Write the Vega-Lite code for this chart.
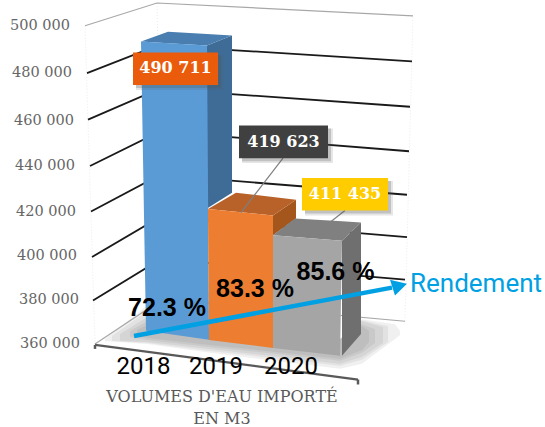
{"$schema":"https://vega.github.io/schema/vega-lite/v6.json","width":545,"height":427,"padding":0,"autosize":{"type":"fit","contains":"padding"},"background":"white","config":{"view":{"stroke":null}},
"encoding":{"x":{"field":"p","type":"quantitative","scale":{"domain":[2015.4,2023.575],"nice":false,"zero":false},"axis":null},"y":{"field":"v","type":"quantitative","scale":{"domain":[324328,510500],"nice":false,"zero":false},"axis":null},"color":{"field":"part","type":"nominal","legend":null,"scale":{"domain":["blueSide","blueTop","orangeSide","orangeTop","graySide","grayTop","blueFront","orangeFront","grayFront","labelOrange","labelDark","labelYellow"],"range":["#3F6C97","#4A7EB0","#A5561C","#B8622A","#6F6F6F","#808080","#5B9BD5","#ED7D31","#A5A5A5","#EA5B0C","#404040","#FFCC00"]}}},
"layer":[
{"mark":{"type":"line","strokeWidth":1,"strokeDash":[1,2]},"encoding":{"color":{"value":"#ececec"},"detail":{"field":"e"}},"data":{"values":[{"e":"l","p":2016.675,"v":500472},{"e":"l","p":2016.825,"v":360080},{"e":"c","p":2017.755,"v":510500},{"e":"c","p":2017.83,"v":379700},{"e":"r","p":2021.595,"v":504832},{"e":"r","p":2021.475,"v":370108}]}},
{"mark":{"type":"area","orient":"vertical","opacity":0.09},"encoding":{"color":{"value":"#555555"},"detail":{"field":"s"},"y2":{"field":"v2"}},"data":{"values":[
{"s":1,"p":2016.975,"v":362260,"v2":361388},{"s":1,"p":2017.605,"v":377084,"v2":360080},{"s":1,"p":2018.55,"v":366620,"v2":356156},{"s":1,"p":2020.5,"v":362260,"v2":349180},{"s":1,"p":2020.83,"v":370980,"v2":351360},{"s":1,"p":2021.325,"v":368800,"v2":362260},{"s":1,"p":2021.4,"v":365748,"v2":364004},
{"s":2,"p":2017.08,"v":363568,"v2":361388},{"s":2,"p":2017.605,"v":374468,"v2":360516},{"s":2,"p":2018.55,"v":366620,"v2":357028},{"s":2,"p":2020.5,"v":362260,"v2":350488},{"s":2,"p":2020.83,"v":370544,"v2":353104},{"s":2,"p":2021.22,"v":367928,"v2":360952},
{"s":3,"p":2017.2,"v":364440,"v2":361388},{"s":3,"p":2017.605,"v":371852,"v2":360952},{"s":3,"p":2018.55,"v":366620,"v2":357900},{"s":3,"p":2020.5,"v":362260,"v2":351360},{"s":3,"p":2020.83,"v":370108,"v2":354412},{"s":3,"p":2021.145,"v":367492,"v2":360516},
{"s":4,"p":2017.35,"v":365748,"v2":363132},{"s":4,"p":2017.605,"v":370108,"v2":361824},{"s":4,"p":2018.55,"v":366620,"v2":358772},{"s":4,"p":2020.5,"v":362260,"v2":352668},{"s":4,"p":2020.83,"v":368800,"v2":356156},{"s":4,"p":2021.025,"v":366620,"v2":360516},
{"s":5,"p":2017.455,"v":366184,"v2":364004},{"s":5,"p":2017.605,"v":368364,"v2":362696},{"s":5,"p":2018.55,"v":366620,"v2":359644},{"s":5,"p":2020.5,"v":362260,"v2":353540},{"s":5,"p":2020.83,"v":367928,"v2":357464},{"s":5,"p":2020.935,"v":365748,"v2":360952}]}},
{"mark":{"type":"line","strokeWidth":1.8},"encoding":{"color":{"value":"#1a1a1a"},"detail":{"field":"grid"}},"data":{"values":[
{"grid":480000,"p":2016.705,"v":479544},{"grid":480000,"p":2017.77,"v":491752},{"grid":480000,"p":2021.58,"v":484776},
{"grid":460000,"p":2016.72,"v":459052},{"grid":460000,"p":2017.785,"v":472568},{"grid":460000,"p":2021.55,"v":464720},
{"grid":440000,"p":2016.75,"v":438560},{"grid":440000,"p":2017.8,"v":453820},{"grid":440000,"p":2021.535,"v":445100},
{"grid":420000,"p":2016.765,"v":418504},{"grid":420000,"p":2017.8,"v":434636},{"grid":420000,"p":2021.505,"v":425916},
{"grid":400000,"p":2016.78,"v":398448},{"grid":400000,"p":2017.815,"v":416324},{"grid":400000,"p":2021.505,"v":407168},
{"grid":380000,"p":2016.795,"v":379264},{"grid":380000,"p":2017.815,"v":397576},{"grid":380000,"p":2021.475,"v":388420}]}},
{"mark":{"type":"line","strokeWidth":1.2},"encoding":{"color":{"value":"#a8a8a8"},"detail":{"field":"grid"}},"data":{"values":[
{"grid":500000,"p":2016.675,"v":500472},{"grid":500000,"p":2017.755,"v":510500},{"grid":500000,"p":2021.595,"v":504832},
{"grid":360000,"p":2016.825,"v":360080},{"grid":360000,"p":2017.83,"v":379700},{"grid":360000,"p":2021.475,"v":370108}]}},
{"mark":{"type":"area","orient":"vertical"},"encoding":{"y2":{"field":"v2"}},"data":{"values":[
{"part":"blueSide","p":2018.505,"v":491752,"v2":419812},{"part":"blueSide","p":2018.88,"v":496112,"v2":426788},
{"part":"blueTop","p":2017.515,"v":493496,"v2":493496},{"part":"blueTop","p":2017.92,"v":497856,"v2":492798},{"part":"blueTop","p":2018.505,"v":496810,"v2":491752},{"part":"blueTop","p":2018.88,"v":496112,"v2":496112},
{"part":"orangeSide","p":2019.495,"v":416760,"v2":408040},{"part":"orangeSide","p":2019.84,"v":423736,"v2":415452},
{"part":"orangeTop","p":2018.52,"v":419594,"v2":419594},{"part":"orangeTop","p":2018.94,"v":426788,"v2":418373},{"part":"orangeTop","p":2019.495,"v":424913,"v2":416760},{"part":"orangeTop","p":2019.84,"v":423736,"v2":423736},
{"part":"graySide","p":2020.53,"v":405642,"v2":354848},{"part":"graySide","p":2020.815,"v":413708,"v2":364440},
{"part":"grayTop","p":2019.495,"v":408040,"v2":408040},{"part":"grayTop","p":2019.825,"v":415452,"v2":407277},{"part":"grayTop","p":2020.53,"v":414209,"v2":405642},{"part":"grayTop","p":2020.815,"v":413708,"v2":413708}]}},
{"mark":{"type":"area","orient":"horizontal"},"encoding":{"x2":{"field":"p2"}},"data":{"values":[
{"part":"blueFront","v":493496,"p":2017.515,"p2":2017.515},{"part":"blueFront","v":491752,"p":2017.516,"p2":2018.505},{"part":"blueFront","v":365879,"p":2017.59,"p2":2018.535},{"part":"blueFront","v":361955,"p":2018.535,"p2":2018.535},
{"part":"orangeFront","v":419594,"p":2018.52,"p2":2018.52},{"part":"orangeFront","v":416760,"p":2018.52,"p2":2019.495},{"part":"orangeFront","v":361824,"p":2018.535,"p2":2019.495},{"part":"orangeFront","v":358336,"p":2019.495,"p2":2019.495},
{"part":"grayFront","v":408040,"p":2019.495,"p2":2019.495},{"part":"grayFront","v":405642,"p":2019.495,"p2":2020.53},{"part":"grayFront","v":358336,"p":2019.495,"p2":2020.503},{"part":"grayFront","v":354848,"p":2020.5,"p2":2020.5}]}},
{"mark":{"type":"line","strokeWidth":2.2},"encoding":{"color":{"value":"#595959"}},"data":{"values":[{"p":2016.825,"v":359644},{"p":2020.77,"v":344384}]}},
{"mark":{"type":"rule","strokeWidth":2.5},"encoding":{"color":{"value":"#595959"},"y2":{"field":"v2"}},"data":{"values":[{"p":2016.825,"v":359644,"v2":357900},{"p":2020.77,"v":344384,"v2":342204}]}},
{"mark":{"type":"line","strokeWidth":1.2},"encoding":{"color":{"value":"#7f7f7f"},"detail":{"field":"lead"}},"data":{"values":[{"lead":"2019","p":2019.645,"v":442048},{"lead":"2019","p":2019.015,"v":418068},{"lead":"2020","p":2020.575,"v":418940},{"lead":"2020","p":2020.365,"v":414144}]}},
{"mark":{"type":"rect","opacity":0.15},"encoding":{"color":{"value":"#555555"},"x2":{"field":"p2"},"y2":{"field":"v2"}},"data":{"values":[{"p":2017.44,"p2":2018.745,"v":487392,"v2":472132},{"p":2019.03,"p2":2020.395,"v":455128,"v2":439868},{"p":2019.975,"p2":2021.295,"v":432020,"v2":416760}]}},
{"mark":{"type":"rect","opacity":0.25},"encoding":{"color":{"value":"#555555"},"x2":{"field":"p2"},"y2":{"field":"v2"}},"data":{"values":[{"p":2017.44,"p2":2018.715,"v":487392,"v2":473004},{"p":2019.03,"p2":2020.365,"v":455128,"v2":440740},{"p":2019.975,"p2":2021.265,"v":432020,"v2":417632}]}},
{"mark":{"type":"rect"},"encoding":{"x2":{"field":"p2"},"y2":{"field":"v2"}},"data":{"values":[{"part":"labelOrange","p":2017.395,"p2":2018.67,"v":488700,"v2":474312},{"part":"labelDark","p":2018.985,"p2":2020.32,"v":456436,"v2":442048},{"part":"labelYellow","p":2019.93,"p2":2021.22,"v":433328,"v2":418940}]}},
{"mark":{"type":"text","font":"DejaVu Serif","fontWeight":"bold","fontSize":16,"baseline":"middle","align":"center"},"encoding":{"text":{"field":"t"},"color":{"value":"#ffffff"}},"data":{"values":[{"t":"490 711","p":2018.0325,"v":481724},{"t":"419 623","p":2019.6525,"v":449024},{"t":"411 435","p":2020.575,"v":426134}]}},
{"mark":{"type":"line","strokeWidth":4.5},"encoding":{"color":{"value":"#00A0E3"}},"data":{"values":[{"p":2017.41,"v":363568},{"p":2021.28,"v":384932}]}},
{"mark":{"type":"area","orient":"vertical"},"encoding":{"color":{"value":"#00A0E3"},"y2":{"field":"v2"}},"data":{"values":[{"p":2021.25,"v":388420,"v2":388420},{"p":2021.325,"v":387897,"v2":381444},{"p":2021.505,"v":386676,"v2":386676}]}},
{"mark":{"type":"text","font":"Liberation Sans","fontWeight":"bold","fontSize":25,"baseline":"middle","align":"center"},"encoding":{"text":{"field":"t"},"color":{"value":"#000000"}},"data":{"values":[{"t":"72.3 %","p":2017.905,"v":375776},{"t":"83.3 %","p":2019.225,"v":384496},{"t":"85.6 %","p":2020.4325,"v":391908}]}},
{"mark":{"type":"text","font":"Roboto","fontSize":24,"baseline":"middle","align":"center"},"encoding":{"text":{"field":"t"},"color":{"value":"#000000"}},"data":{"values":[{"t":"2018","p":2017.5525,"v":350052},{"t":"2019","p":2018.64,"v":350052},{"t":"2020","p":2019.765,"v":350052}]}},
{"mark":{"type":"text","font":"Roboto","fontSize":26,"baseline":"middle","align":"center"},"encoding":{"text":{"field":"t"},"color":{"value":"#00A0E3"}},"data":{"values":[{"t":"Rendement","p":2022.54,"v":386676}]}},
{"mark":{"type":"text","font":"DejaVu Serif","fontSize":16,"baseline":"middle","align":"center"},"encoding":{"text":{"field":"t"},"color":{"value":"#595959"}},"data":{"values":[{"t":"VOLUMES D'EAU IMPORTÉ","p":2018.73,"v":336536},{"t":"EN M3","p":2018.73,"v":326944}]}},
{"mark":{"type":"text","font":"DejaVu Serif","fontSize":14.5,"baseline":"middle","align":"center"},"encoding":{"text":{"field":"t"},"color":{"value":"#666666"}},"data":{"values":[{"t":"500 000","p":2016.0,"v":500472},{"t":"480 000","p":2016.03,"v":479544},{"t":"460 000","p":2016.06,"v":458616},{"t":"440 000","p":2016.075,"v":438560},{"t":"420 000","p":2016.09,"v":418504},{"t":"400 000","p":2016.105,"v":398884},{"t":"380 000","p":2016.135,"v":379264},{"t":"360 000","p":2016.15,"v":360080}]}}
]}
